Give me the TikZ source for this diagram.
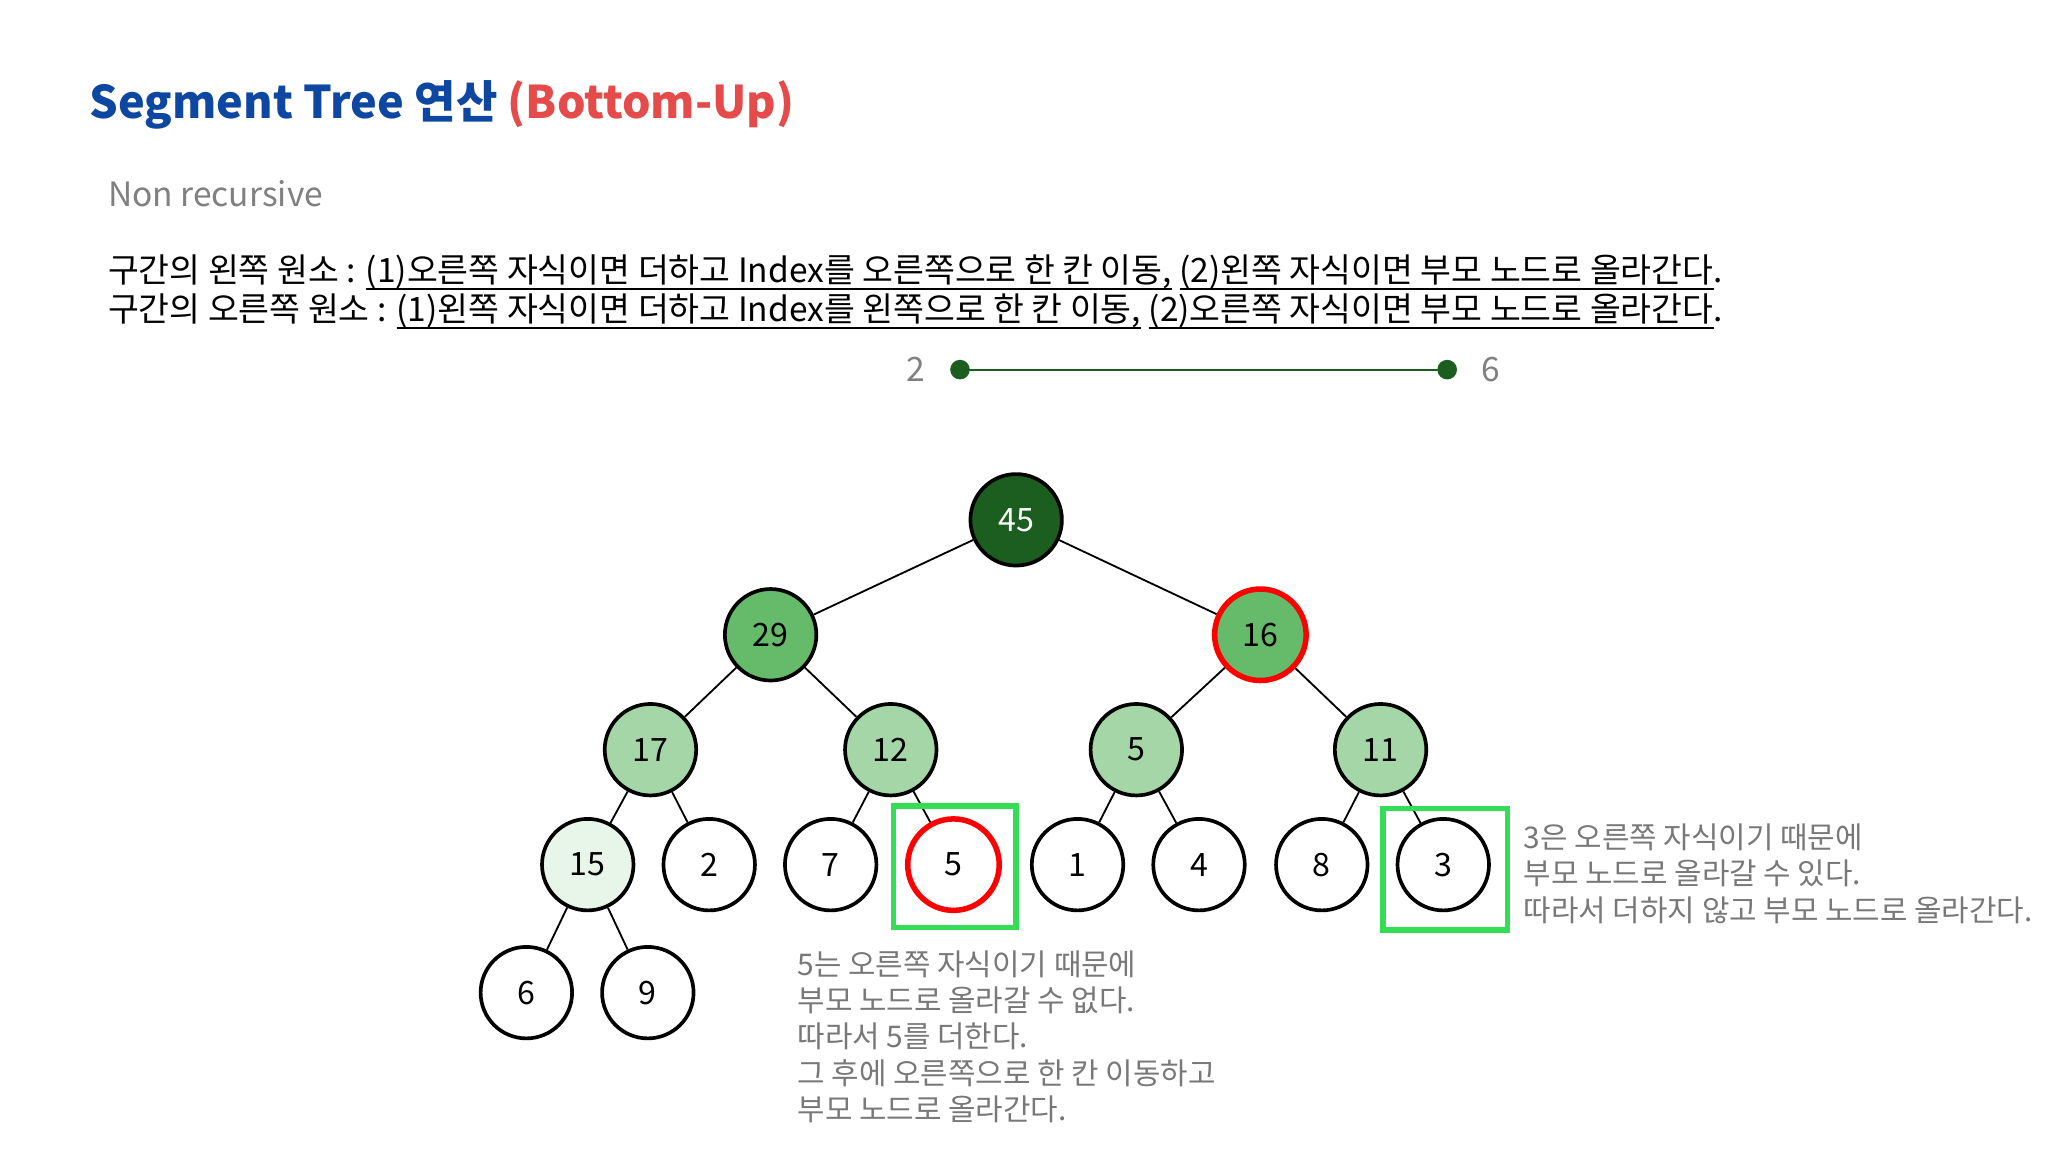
\documentclass[tikz,border=0pt]{standalone}
\usepackage{fontspec}
\setmainfont{Noto Sans CJK KR}
\definecolor{titleblue}{RGB}{13,71,161}
\definecolor{titlered}{RGB}{229,75,75}
\definecolor{darkgreen}{RGB}{27,94,32}
\definecolor{midgreen}{RGB}{102,187,106}
\definecolor{lightgreen}{RGB}{165,214,167}
\definecolor{palegreen}{RGB}{232,245,233}
\definecolor{boxgreen}{RGB}{51,221,85}
\definecolor{noteg}{RGB}{120,120,120}
\newcommand\ulpart[1]{\underline{\smash{#1}}}
\tikzset{
    tnode/.style={circle, draw=black, thick, minimum size=0.7cm, inner sep=0pt, font=\fontsize{7}{8}\selectfont},
    hitnode/.style={tnode, draw=red, line width=1.2pt},
    note/.style={anchor=north west, align=left, text=noteg, font=\fontsize{6.5}{7.9}\selectfont, inner sep=0pt}
}
\begin{document}
\begin{tikzpicture}[x=0.01cm, y=-0.01cm]
    \useasboundingbox (0,0) rectangle (1568,882);
    % title and rules
    \node[anchor=west, inner sep=0pt, font=\fontsize{9.8}{11}\selectfont\bfseries] (title) at (68,80)
        {\textcolor{titleblue}{Segment Tree 연산} \textcolor{titlered}{(Bottom-Up)}};
    \node[anchor=west, inner sep=0pt, text=gray, font=\fontsize{7.3}{9}\selectfont] (sub) at (82,148) {Non recursive};
    \node[anchor=west, inner sep=0pt, font=\fontsize{7.3}{9}\selectfont] (ruleL) at (82,209)
        {구간의 왼쪽 원소 : \ulpart{(1)오른쪽 자식이면 더하고 Index를 오른쪽으로 한 칸 이동,} \ulpart{(2)왼쪽 자식이면 부모 노드로 올라간다}.};
    \node[anchor=west, inner sep=0pt, font=\fontsize{7.3}{9}\selectfont] (ruleR) at (82,239)
        {구간의 오른쪽 원소 : \ulpart{(1)왼쪽 자식이면 더하고 Index를 왼쪽으로 한 칸 이동,} \ulpart{(2)오른쪽 자식이면 부모 노드로 올라간다}.};
    % range
    \fill[darkgreen] (735,283) circle (0.075cm) coordinate (lo);
    \fill[darkgreen] (1108,283) circle (0.075cm) coordinate (hi);
    \draw[darkgreen] (lo) -- (hi);
    \node[text=gray, left=4pt, font=\fontsize{7.3}{9}\selectfont] (lol) at (lo) {2};
    \node[text=gray, right=4pt, font=\fontsize{7.3}{9}\selectfont] (hil) at (hi) {6};
    % tree
    \node[tnode, fill=darkgreen, text=white] (n1) at (778,398) {45};
    \node[tnode, fill=midgreen] (n2) at (590,486) {29};
    \node[hitnode, fill=midgreen] (n3) at (965,486) {16};
    \node[tnode, fill=lightgreen] (n4) at (498,574) {17};
    \node[tnode, fill=lightgreen] (n5) at (682,574) {12};
    \node[tnode, fill=lightgreen] (n6) at (870,574) {5};
    \node[tnode, fill=lightgreen] (n7) at (1057,574) {11};
    \node[tnode, fill=palegreen] (n8) at (450,662) {15};
    \node[tnode] (n9) at (543,662) {2};
    \node[tnode] (n10) at (636,662) {7};
    \node[hitnode] (n11) at (730,662) {5};
    \node[tnode] (n12) at (825,662) {1};
    \node[tnode] (n13) at (918,662) {4};
    \node[tnode] (n14) at (1012,662) {8};
    \node[tnode] (n15) at (1105,662) {3};
    \node[tnode] (n16) at (403,760) {6};
    \node[tnode] (n17) at (496,760) {9};
    \foreach \p/\c in {n1/n2, n1/n3, n2/n4, n2/n5, n3/n6, n3/n7, n4/n8, n4/n9, n5/n10, n5/n11, n6/n12, n6/n13, n7/n14, n7/n15, n8/n16, n8/n17}
        \draw (\p) -- (\c);
    % highlight boxes
    \draw[boxgreen, line width=1.2pt] (684,617) rectangle (778,710);
    \draw[boxgreen, line width=1.2pt] (1059,619) rectangle (1154,712);
    % notes
    \node[note] (note5) at (610,727) {5는 오른쪽 자식이기 때문에\\부모 노드로 올라갈 수 없다.\\따라서 5를 더한다.\\그 후에 오른쪽으로 한 칸 이동하고\\부모 노드로 올라간다.};
    \node[note] (note3) at (1166,630) {3은 오른쪽 자식이기 때문에\\부모 노드로 올라갈 수 있다.\\따라서 더하지 않고 부모 노드로 올라간다.};
\end{tikzpicture}
\end{document}
